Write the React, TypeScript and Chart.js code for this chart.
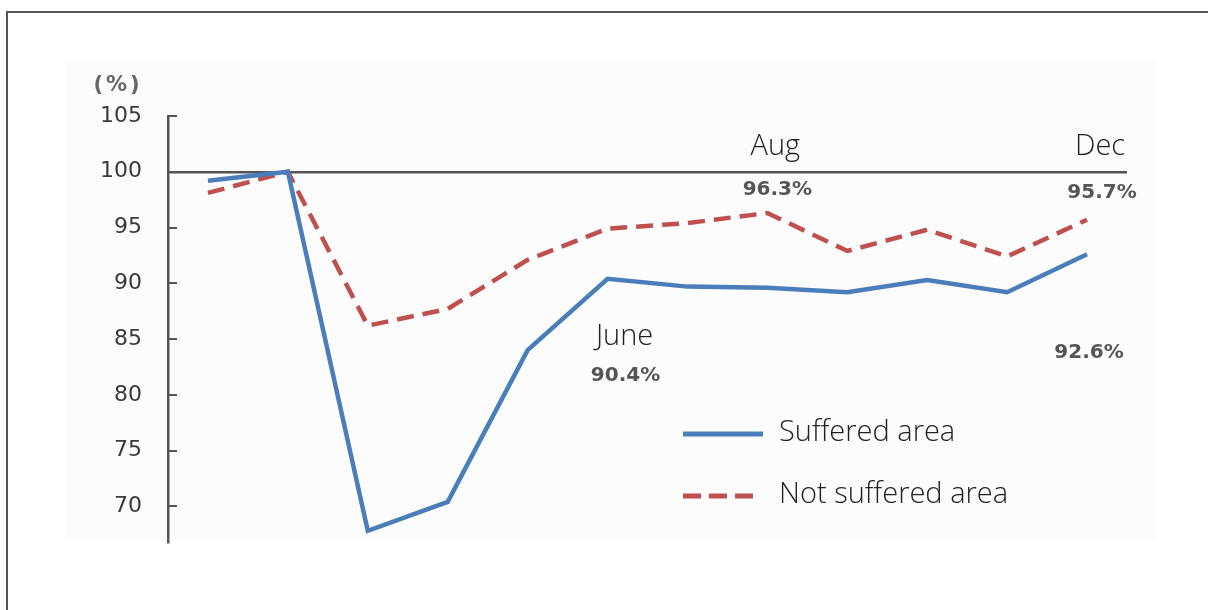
import React, { useEffect, useRef } from "react";
import { Chart, registerables } from "chart.js";

Chart.register(...registerables);

const months = ["Jan", "Feb", "Mar", "Apr", "May", "Jun", "Jul", "Aug", "Sep", "Oct", "Nov", "Dec"];
const suffered = [99.2, 100, 67.8, 70.4, 84.0, 90.4, 89.7, 89.6, 89.2, 90.3, 89.2, 92.6];
const notSuffered = [98.1, 100, 86.2, 87.7, 92.1, 94.9, 95.4, 96.3, 92.9, 94.8, 92.4, 95.7];
const yTickValues = [70, 75, 80, 85, 90, 95, 100, 105];
const seriesNames = ["Suffered area", "Not suffered area"];
const monthNotes = ["June", "Aug", "Dec"];
const valueNotes = ["90.4%", "96.3%", "95.7%", "92.6%"];
const unitLabel = "(%)";

const BLUE = "#4A7EBB";
const RED = "#C0504D";
const THIN = "300 29px 'Open Sans', 'DejaVu Sans', sans-serif";
const VAL = "bold 20px 'DejaVu Sans', sans-serif";

const decor = {
  id: "decor",
  beforeDraw(chart: any) {
    const { ctx } = chart;
    ctx.save();
    ctx.fillStyle = "#fcfcfc";
    ctx.fillRect(65, 60, 1092, 480);
    ctx.strokeStyle = "#555";
    ctx.lineWidth = 2;
    ctx.beginPath();
    ctx.moveTo(7, 1000);
    ctx.lineTo(7, 12);
    ctx.lineTo(1300, 12);
    ctx.stroke();
    ctx.restore();
  },
  afterDraw(chart: any) {
    const { ctx, chartArea } = chart;
    const x = chart.scales.x;
    const y = chart.scales.y;
    ctx.save();
    // inward tick marks
    ctx.strokeStyle = "#555";
    ctx.lineWidth = 2;
    for (const v of yTickValues) {
      const py = Math.round(y.getPixelForValue(v));
      ctx.beginPath();
      ctx.moveTo(chartArea.left, py);
      ctx.lineTo(chartArea.left + 9, py);
      ctx.stroke();
    }
    // unit label
    ctx.fillStyle = "#666";
    ctx.font = "bold 21px 'DejaVu Sans', sans-serif";
    (ctx as any).letterSpacing = "3px";
    ctx.textAlign = "center";
    ctx.textBaseline = "middle";
    ctx.fillText(unitLabel, 118, y.getPixelForValue(105) - 30);
    (ctx as any).letterSpacing = "0px";

    const y100 = y.getPixelForValue(100);
    // month notes
    ctx.fillStyle = "#222";
    ctx.font = THIN;
    ctx.textBaseline = "alphabetic";
    ctx.fillText(monthNotes[0], x.getPixelForValue(5) + 17, y100 + 173);
    ctx.fillText(monthNotes[1], x.getPixelForValue(7) + 8, y100 - 17);
    ctx.fillText(monthNotes[2], x.getPixelForValue(11) + 13, y100 - 17);
    // value notes
    ctx.fillStyle = "#555";
    ctx.font = VAL;
    ctx.textBaseline = "middle";
    ctx.fillText(valueNotes[0], x.getPixelForValue(5) + 18, y100 + 204);
    ctx.fillText(valueNotes[1], x.getPixelForValue(7) + 10, y100 + 18);
    ctx.fillText(valueNotes[2], x.getPixelForValue(11) + 15, y100 + 21);
    ctx.fillText(valueNotes[3], x.getPixelForValue(11) + 2, y100 + 181);

    // legend
    const legendY = [434, 496];
    ctx.lineWidth = 5;
    ctx.lineCap = "butt";
    ctx.strokeStyle = BLUE;
    ctx.beginPath();
    ctx.moveTo(683, legendY[0]);
    ctx.lineTo(763, legendY[0]);
    ctx.stroke();
    ctx.strokeStyle = RED;
    ctx.setLineDash([18, 8]);
    ctx.beginPath();
    ctx.moveTo(683, legendY[1]);
    ctx.lineTo(759, legendY[1]);
    ctx.stroke();
    ctx.setLineDash([]);
    ctx.fillStyle = "#222";
    ctx.font = THIN;
    ctx.textAlign = "left";
    ctx.textBaseline = "middle";
    ctx.fillText(seriesNames[0], 779, legendY[0] - 1);
    ctx.fillText(seriesNames[1], 779, legendY[1] - 1);
    ctx.restore();
  },
};

export default function App() {
  const ref = useRef<HTMLCanvasElement>(null);
  useEffect(() => {
    if (!ref.current) return;
    const chart = new Chart(ref.current, {
      type: "line",
      data: {
        labels: months,
        datasets: [
          {
            label: seriesNames[0],
            data: suffered,
            borderColor: BLUE,
            borderWidth: 4.5,
            pointRadius: 0,
            tension: 0,
            fill: false,
          },
          {
            label: seriesNames[1],
            data: notSuffered,
            borderColor: RED,
            borderWidth: 4.5,
            borderDash: [17, 9],
            pointRadius: 0,
            tension: 0,
            fill: false,
          },
        ],
      },
      options: {
        responsive: false,
        animation: false,
        devicePixelRatio: 1,
        layout: { padding: { left: 68, right: 81, top: 116, bottom: 68 } },
        plugins: { legend: { display: false }, tooltip: { enabled: false } },
        scales: {
          x: {
            type: "category",
            offset: true,
            display: false,
          },
          y: {
            min: 66.8,
            max: 105,
            afterBuildTicks: (s: any) => {
              s.ticks = yTickValues.map((v) => ({ value: v }));
            },
            afterFit: (s: any) => {
              s.width = 100;
            },
            border: { display: true, color: "#555", width: 2.5 },
            grid: {
              drawTicks: false,
              color: (c: any) => (c.tick && c.tick.value === 100 ? "#555" : "rgba(0,0,0,0)"),
              lineWidth: 2.5,
            },
            ticks: {
              padding: 26,
              color: "#3a3a3a",
              font: { family: "'DejaVu Sans', sans-serif", size: 22 },
            },
          },
        },
      },
      plugins: [decor],
    });
    return () => chart.destroy();
  }, []);
  return (
    <div style={{ position: "fixed", left: 0, top: 0, width: 1208, height: 610, background: "#fff" }}>
      <canvas ref={ref} width={1208} height={610} style={{ display: "block", width: 1208, height: 610 }} />
    </div>
  );
}
